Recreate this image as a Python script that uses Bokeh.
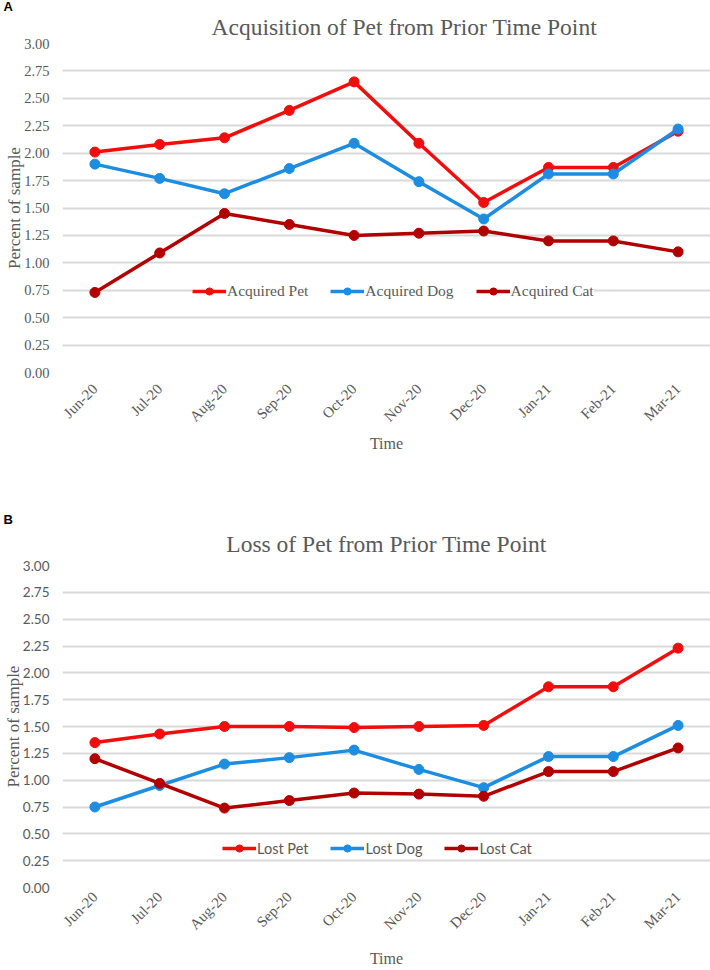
from math import pi

from bokeh.embed import file_html
from bokeh.layouts import column
from bokeh.models import (FixedTicker, Legend, LegendItem,
                          PrintfTickFormatter, Range1d, Title)
from bokeh.plotting import figure
from bokeh.resources import INLINE

# ---- data -------------------------------------------------------------
months = ["Jun-20", "Jul-20", "Aug-20", "Sep-20", "Oct-20",
          "Nov-20", "Dec-20", "Jan-21", "Feb-21", "Mar-21"]
y_ticks = [0.0, 0.25, 0.5, 0.75, 1.0, 1.25, 1.5, 1.75, 2.0, 2.25, 2.5, 2.75, 3.0]

acquired_pet = [2.01, 2.08, 2.14, 2.39, 2.65, 2.09, 1.55, 1.87, 1.87, 2.20]
acquired_dog = [1.90, 1.77, 1.63, 1.86, 2.09, 1.74, 1.40, 1.81, 1.81, 2.22]
acquired_cat = [0.73, 1.09, 1.45, 1.35, 1.25, 1.27, 1.29, 1.20, 1.20, 1.10]

lost_pet = [1.35, 1.43, 1.50, 1.50, 1.49, 1.50, 1.51, 1.87, 1.87, 2.23]
lost_dog = [0.75, 0.95, 1.15, 1.21, 1.28, 1.10, 0.93, 1.22, 1.22, 1.51]
lost_cat = [1.20, 0.97, 0.74, 0.81, 0.88, 0.87, 0.85, 1.08, 1.08, 1.30]

# ---- styling ----------------------------------------------------------
SERIF = "Liberation Serif"
SANS = "Lato"
TEXT = "#595959"
GRID = "#d9d9d9"
RED = "#f20d0d"
BLUE = "#1c8de0"
DARK_RED = "#b00000"


def make_panel(title, letter, series, height, top, bottom,
               tick_font, tick_size, legend_font, legend_size, legend_loc,
               title_align, title_offset, title_standoff, letter_standoff,
               letter_valign, xlabel_standoff, time_standoff):
    p = figure(width=710, height=height, x_range=months,
               y_range=Range1d(0, 3), output_backend="svg",
               toolbar_location=None, title_location=None,
               min_border_left=61, min_border_right=0,
               min_border_top=top, min_border_bottom=bottom)
    p.outline_line_color = None
    p.background_fill_color = "white"

    # chart title (nearest the frame) and the panel letter above it
    p.add_layout(Title(text=title, align=title_align, offset=title_offset,
                       standoff=title_standoff, text_font=SERIF,
                       text_font_size="23.5px", text_font_style="normal",
                       text_color=TEXT), "above")
    p.add_layout(Title(text=letter, align="left", offset=-59,
                       vertical_align=letter_valign, standoff=letter_standoff,
                       text_font="Liberation Sans", text_font_size="13px",
                       text_font_style="bold", text_color="black"), "above")

    # y axis
    p.yaxis.ticker = FixedTicker(ticks=y_ticks)
    p.yaxis.formatter = PrintfTickFormatter(format="%.2f")
    p.yaxis.axis_line_color = None
    p.yaxis.major_tick_line_color = None
    p.yaxis.major_tick_out = 0
    p.yaxis.major_tick_in = 0
    p.yaxis.minor_tick_line_color = None
    p.yaxis.major_label_standoff = 13
    p.yaxis.major_label_text_font = tick_font
    p.yaxis.major_label_text_font_size = tick_size
    p.yaxis.major_label_text_color = TEXT
    p.yaxis.axis_label = "Percent of sample"
    p.yaxis.axis_label_text_font = SERIF
    p.yaxis.axis_label_text_font_size = "17px"
    p.yaxis.axis_label_text_font_style = "normal"
    p.yaxis.axis_label_text_color = TEXT
    p.yaxis.axis_label_standoff = -3

    # x axis
    p.xaxis.axis_line_color = None
    p.xaxis.major_tick_line_color = None
    p.xaxis.major_tick_out = 0
    p.xaxis.major_tick_in = 0
    p.xaxis.major_label_orientation = pi / 4
    p.xaxis.major_label_standoff = xlabel_standoff
    p.xaxis.major_label_text_font = SERIF
    p.xaxis.major_label_text_font_size = "15px"
    p.xaxis.major_label_text_color = TEXT
    p.xaxis.axis_label = "Time"
    p.xaxis.axis_label_text_font = SERIF
    p.xaxis.axis_label_text_font_size = "16px"
    p.xaxis.axis_label_text_font_style = "normal"
    p.xaxis.axis_label_text_color = TEXT
    p.xaxis.axis_label_standoff = time_standoff

    p.xgrid.grid_line_color = None
    p.ygrid.ticker = FixedTicker(ticks=y_ticks)
    p.ygrid.grid_line_color = GRID
    p.ygrid.grid_line_width = 2

    items = []
    for label, values, color in series:
        ln = p.line(months, values, line_color=color, line_width=3.5)
        pt = p.scatter(months, values, marker="circle", size=10,
                       fill_color=color, line_color=color)
        items.append(LegendItem(label=label, renderers=[ln, pt]))

    legend = Legend(items=items, orientation="horizontal",
                    location=legend_loc, padding=0, margin=0,
                    spacing=22, glyph_width=34, glyph_height=18,
                    label_standoff=1, border_line_color=None,
                    background_fill_color="white", background_fill_alpha=1,
                    label_text_font=legend_font,
                    label_text_font_size=legend_size,
                    label_text_color=TEXT)
    p.add_layout(legend, "center")
    return p


panel_a = make_panel(
    "Acquisition of Pet from Prior Time Point", "A",
    [("Acquired Pet", acquired_pet, RED),
     ("Acquired Dog", acquired_dog, BLUE),
     ("Acquired Cat", acquired_cat, DARK_RED)],
    height=485, top=43, bottom=113, tick_font=SERIF, tick_size="14.5px",
    legend_font=SERIF, legend_size="15.5px", legend_loc=(130, 72),
    title_align="left", title_offset=149, title_standoff=8,
    letter_standoff=-12, letter_valign="bottom",
    xlabel_standoff=14, time_standoff=2)

panel_b = make_panel(
    "Loss of Pet from Prior Time Point", "B",
    [("Lost Pet", lost_pet, RED),
     ("Lost Dog", lost_dog, BLUE),
     ("Lost Cat", lost_cat, DARK_RED)],
    height=485, top=80, bottom=76, tick_font=SANS, tick_size="13.5px",
    legend_font=SANS, legend_size="14.5px", legend_loc=(160, 30),
    title_align="center", title_offset=0, title_standoff=17,
    letter_standoff=-17, letter_valign="top",
    xlabel_standoff=7, time_standoff=9)

layout = column(panel_a, panel_b, spacing=0)

with open("out.html", "w") as f:
    f.write(file_html(layout, INLINE))
